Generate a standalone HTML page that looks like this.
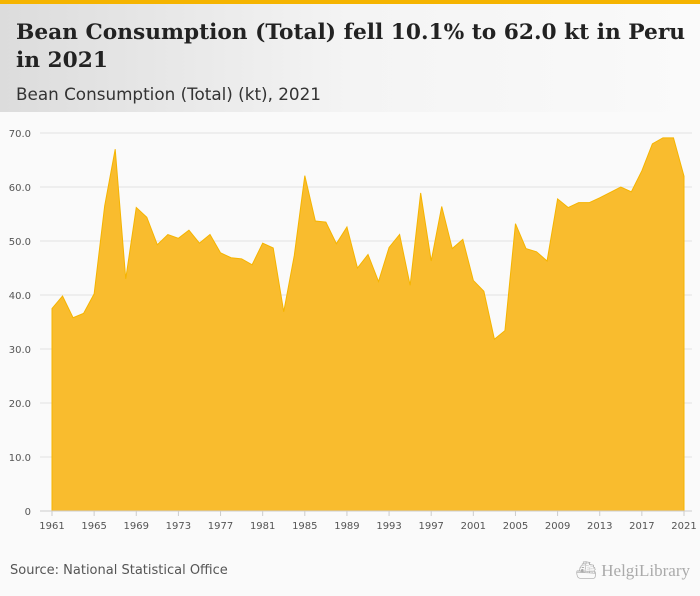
<!DOCTYPE html>
<html><head><meta charset="utf-8"><style>
body{margin:0;width:700px;height:596px;overflow:hidden;background:#fafafa;font-family:"DejaVu Sans","Liberation Sans",sans-serif;}
#hdr{position:absolute;left:0;top:0;width:700px;height:112px;background:linear-gradient(90deg,#dcdcdc 0%,#f4f4f4 50%,#fafafa 100%);border-top:4px solid #f5b400;box-sizing:border-box;}
#title{position:absolute;left:16px;top:15px;font-family:"DejaVu Serif","Liberation Serif",serif;font-weight:bold;font-size:21.7px;line-height:28px;color:#222;width:690px;white-space:nowrap;}
#sub{position:absolute;left:16px;top:80px;font-size:16.8px;color:#333;}
#src{position:absolute;left:10px;top:563px;font-size:13px;color:#555;}
#logo{position:absolute;right:10px;top:561px;font-size:17px;color:#aaa;font-family:"Liberation Serif",serif;}
</style></head><body>
<div id="hdr">
<div id="title">Bean Consumption (Total) fell 10.1% to 62.0 kt in Peru<br>in 2021</div>
<div id="sub">Bean Consumption (Total) (kt), 2021</div>
</div>
<svg id="chart" width="700" height="596" style="position:absolute;left:0;top:0"></svg>
<div id="src">Source: National Statistical Office</div>
<div id="logo">⛴ HelgiLibrary</div>
<script>
const years=[];for(let y=1961;y<=2021;y++)years.push(y);
const values=[37.5,39.8,35.8,36.6,40.2,56.5,67.0,43.0,56.2,54.4,49.3,51.2,50.5,52.0,49.6,51.2,47.8,46.9,46.7,45.6,49.6,48.7,36.9,47.3,62.1,53.7,53.5,49.5,52.6,45.0,47.5,42.5,48.8,51.2,41.8,58.9,46.3,56.4,48.6,50.3,42.7,40.7,31.8,33.4,53.2,48.6,48.0,46.3,57.8,56.2,57.1,57.1,58.0,59.0,60.0,59.1,63.0,68.0,69.1,69.1,62.0];
const yTicks=[0,10,20,30,40,50,60,70];
const yTickLabels=["0","10.0","20.0","30.0","40.0","50.0","60.0","70.0"];
const xTickYears=[1961,1965,1969,1973,1977,1981,1985,1989,1993,1997,2001,2005,2009,2013,2017,2021];
const svg=document.getElementById('chart');const NS='http://www.w3.org/2000/svg';
const x=v=>52+(v-1961)*(684-52)/60;
const y=v=>511-v*5.4;
function mk(t,a){const e=document.createElementNS(NS,t);for(const k in a)e.setAttribute(k,a[k]);svg.appendChild(e);return e;}
yTicks.forEach((t,i)=>{
 const g=mk('line',{x1:40,x2:692,y1:y(t),y2:y(t),stroke:'#e2e2e2','stroke-width':1});
 
 
 const l=mk('text',{x:31,y:y(t)+4,'text-anchor':'end','font-size':10,fill:'#555','font-family':'DejaVu Sans, sans-serif'});
 l.textContent=yTickLabels[i];
 
 
});
let d='M'+x(years[0])+','+y(0);
years.forEach((yr,i)=>{d+=' L'+x(yr)+','+y(values[i]);});
d+=' L'+x(years[years.length-1])+','+y(0)+' Z';
const area=mk('path',{d:d,fill:'#f9bc2e',stroke:'#f5b400','stroke-width':1});


const ax=mk('line',{x1:40,x2:692,y1:511,y2:511,stroke:'#ccc'});


xTickYears.forEach(yr=>{
 const tk=mk('line',{x1:x(yr),x2:x(yr),y1:511,y2:516,stroke:'#ccc'});
 
 
 const l=mk('text',{x:x(yr),y:529,'text-anchor':'middle','font-size':10,fill:'#555','font-family':'DejaVu Sans, sans-serif'});
 l.textContent=yr;
 
 
});
</script>
</body></html>
